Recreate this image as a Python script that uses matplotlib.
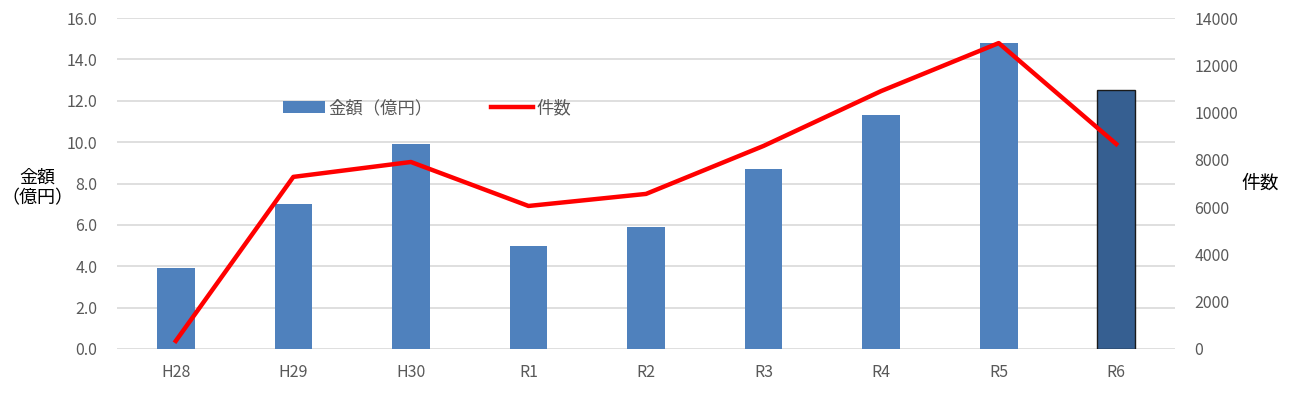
import numpy as np
import matplotlib
matplotlib.use('Agg')
import matplotlib.pyplot as plt
from matplotlib.patches import Patch
from matplotlib.lines import Line2D

plt.rcParams['font.family'] = ['Noto Sans CJK JP', 'DejaVu Sans']

# data
years = ['H28', 'H29', 'H30', 'R1', 'R2', 'R3', 'R4', 'R5', 'R6']
amount = [3.9, 7.0, 9.9, 5.0, 5.9, 8.7, 11.3, 14.8, 12.5]   # 億円
counts = [340, 7280, 7910, 6050, 6560, 8590, 10910, 12940, 8670]  # 件数

bar_color = '#4F81BD'
last_color = '#365F91'
tick_color = '#595959'

fig = plt.figure(figsize=(12.9, 3.96), dpi=100)
ax = fig.add_axes([0.0907, 0.1187, 0.8202, 0.8358])
x = np.arange(len(years))

colors = [bar_color] * (len(years) - 1) + [last_color]
edges = ['none'] * (len(years) - 1) + ['#1a1a1a']
ax.bar(x, amount, width=0.32, color=colors, edgecolor=edges, linewidth=1.0, zorder=2)

ax.set_ylim(0, 16)
ax.set_yticks(np.arange(0, 16.1, 2))
ax.set_yticklabels([f'{v:.1f}' for v in np.arange(0, 16.1, 2)])
ax.set_xlim(-0.5, len(years) - 0.5)
ax.set_xticks(x)
ax.set_xticklabels(years)
ax.grid(axis='y', color='#d9d9d9', linewidth=1.2, zorder=0)
ax.set_axisbelow(True)
for s in ax.spines.values():
    s.set_visible(False)
ax.tick_params(length=0, colors=tick_color, labelsize=11.5)
ax.tick_params(axis='x', pad=11)
ax.tick_params(axis='y', pad=14)

ax2 = ax.twinx()
ax2.plot(x, counts, color='#FF0000', linewidth=3.2, zorder=3)
ax2.set_ylim(0, 14000)
ax2.set_yticks(np.arange(0, 14001, 2000))
for s in ax2.spines.values():
    s.set_visible(False)
ax2.tick_params(length=0, colors=tick_color, labelsize=11.5, pad=14)

fig.text(0.029, 0.525, '金額\n（億円）', ha='center', va='center', fontsize=13,
         color='black', linespacing=1.2)
fig.text(0.977, 0.538, '件数', ha='center', va='center', fontsize=13.5, color='black')

handles = [Patch(facecolor=bar_color, edgecolor='none'),
           Line2D([0], [0], color='#FF0000', linewidth=3.2)]
ax.legend(handles, ['金額（億円）', '件数'], loc='center', bbox_to_anchor=(0.293, 0.728),
          ncol=2, frameon=False, fontsize=12.5, labelcolor=tick_color,
          handlelength=2.4, handleheight=0.7, columnspacing=3.4, handletextpad=0.2)

fig.savefig('out.png', dpi=100)
